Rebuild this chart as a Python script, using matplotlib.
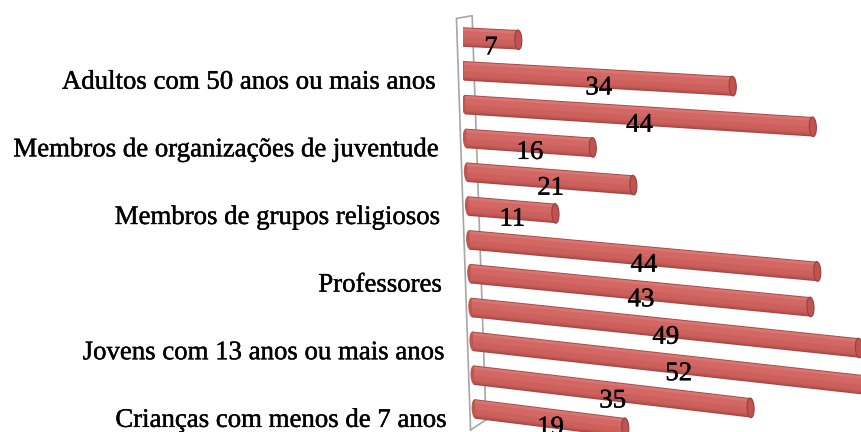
import numpy as np
import matplotlib
matplotlib.use("Agg")
import matplotlib.pyplot as plt
import matplotlib.patheffects as pe
from matplotlib.transforms import Affine2D
from matplotlib.patches import Ellipse

# ---- data (top to bottom as drawn) ----
values = [7, 34, 44, 16, 21, 11, 44, 43, 49, 52, 35, 19]
label_rows = [1, 3, 5, 7, 9, 11]
labels = ["Adultos com 50 anos ou mais anos",
          "Membros de organizações de juventude",
          "Membros de grupos religiosos",
          "Professores",
          "Jovens com 13 anos ou mais anos",
          "Crianças com menos de 7 anos"]

W, H, DPI = 862, 432, 100
fig = plt.figure(figsize=(W / DPI, H / DPI), dpi=DPI)
fig.patch.set_facecolor("white")

left_px = 463
px_per_unit = 7.9
row_px = 33.8
ax = fig.add_axes([left_px / W, 0, 1 - left_px / W, 1])
ax.set_xlim(0, (W - left_px) / px_per_unit)
ax.set_ylim(11 + (H - 409) / row_px, -37 / row_px)
ax.axis("off")

xshift = 0.14  # x-units per row (perspective drift)
serif = ["Liberation Serif", "DejaVu Serif"]
heavy = [pe.withStroke(linewidth=0.3, foreground="black")]

def row_trans(i):
    slope_px = 0.05 + 0.0068 * i
    s = slope_px * px_per_unit / row_px
    return Affine2D(np.array([[1, xshift, 0], [s, 1, 0], [0, 0, 1]])) + ax.transData

bh = 0.58
layers = [(bh, 0.0, "#A64845"), (0.52, -0.01, "#BA5350"),
          (0.46, -0.02, "#C65A57"), (0.38, -0.03, "#CC605D"),
          (0.22, -0.10, "#D26764"), (0.08, -0.22, "#D97572")]
for i, v in enumerate(values):
    tr = row_trans(i)
    for h, off, c in layers:
        ax.barh(i + off, v, height=h, color=c, transform=tr, linewidth=0, zorder=2)
    # left rounded end
    ax.add_patch(Ellipse((0, i), 0.9, bh, facecolor="#C05653", edgecolor="none",
                         transform=tr, zorder=1.9))
    # right end cap
    ax.add_patch(Ellipse((v, i), 0.9, bh, facecolor="#BE5350", edgecolor="#9A403D",
                         linewidth=0.8, transform=tr, zorder=3))
    ax.text(v / 2, i + 0.28, str(v), transform=tr, ha="center", va="center",
            fontsize=19.3, family=serif, color="black", zorder=4,
            path_effects=heavy)

# category labels
for r, lab in zip(label_rows, labels):
    ax.text(-3.7, r + 0.38, lab, transform=row_trans(0), ha="right", va="center",
            fontsize=19.3, family=serif, color="black", clip_on=False,
            path_effects=heavy)

# wall outline
ytop, ybot = -0.55, 11.62
wall_tr = Affine2D(np.array([[1, xshift * 1.05, 0], [0, 1, 0], [0, 0, 1]])) + ax.transData
ax.plot([-0.75, -0.75, 1.25, 1.25], [ybot, ytop, ytop - 0.08, ybot - 0.3],
        color="#A6A6A6", lw=1.2, transform=wall_tr, clip_on=False, zorder=1)
ax.plot([-0.75, 1.25], [ybot, ybot - 0.3], color="#A6A6A6", lw=1.2,
        transform=wall_tr, clip_on=False, zorder=1)

fig.savefig("out.png", dpi=DPI)
